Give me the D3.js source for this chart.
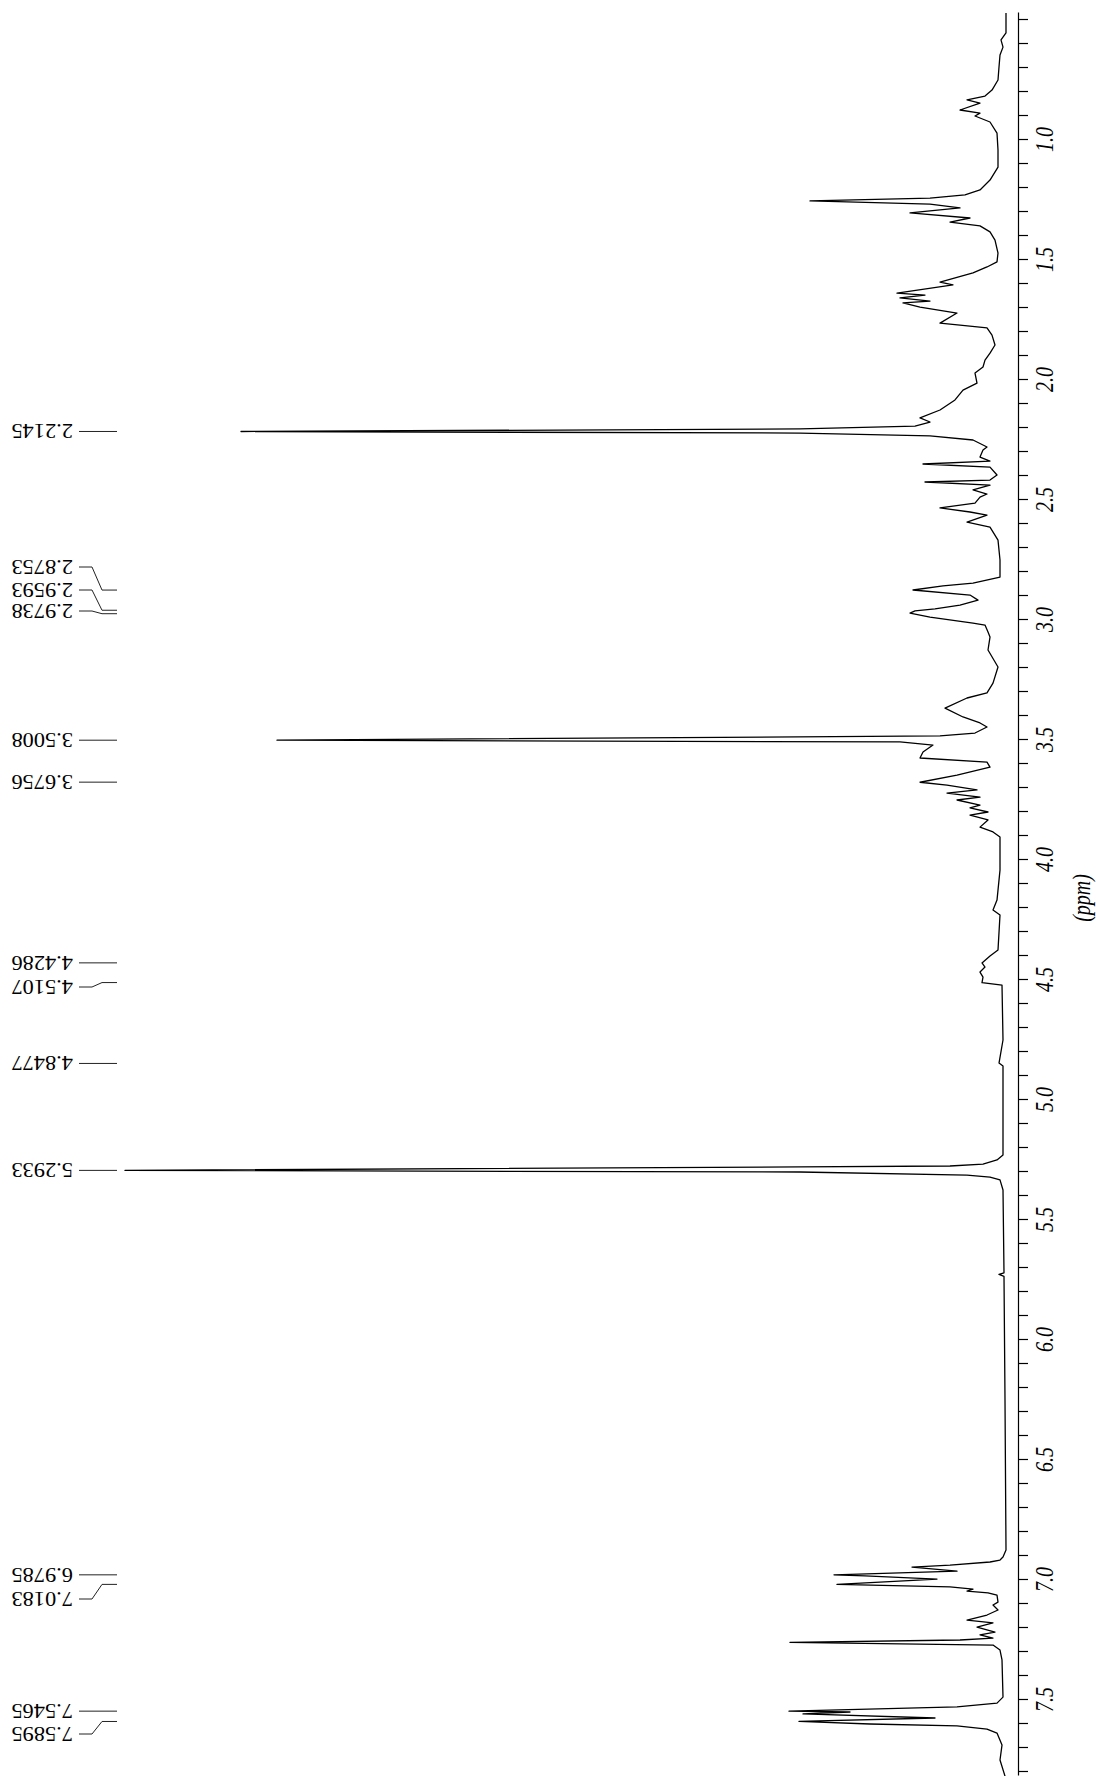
<!DOCTYPE html>
<html>
<head>
<meta charset="utf-8">
<script src="https://cdn.jsdelivr.net/npm/d3@7/dist/d3.min.js"></script>
<style>
    body { margin: 0; background: #fff; }
    svg { display: block; }
    .spectrum { fill: none; stroke: #000; stroke-width: 1.3; stroke-linejoin: round; }
    .leader { fill: none; stroke: #222; stroke-width: 1; }
    .peak-label { font-family: "Liberation Serif", "Times New Roman", serif; font-size: 20px; fill: #000; }
    .axis-label { font-family: "Liberation Serif", "Times New Roman", serif; font-style: italic; font-size: 20px; fill: #000; }
</style>
</head>
<body>
<svg id="chart"></svg>
<script>
// chemical shift (ppm) of each traced point of the 1H spectrum
const shift = [
    0.471, 0.554, 0.583, 0.613, 0.646, 0.696, 0.750, 0.792, 0.817, 0.833,
    0.846, 0.875, 0.888, 0.900, 0.925, 0.971, 1.042, 1.113, 1.167, 1.208,
    1.229, 1.242, 1.254, 1.267, 1.283, 1.304, 1.325, 1.342, 1.358, 1.383,
    1.417, 1.471, 1.508, 1.529, 1.554, 1.592, 1.604, 1.638, 1.646, 1.658,
    1.671, 1.679, 1.696, 1.721, 1.763, 1.771, 1.783, 1.813, 1.854, 1.888,
    1.917, 1.946, 1.971, 2.013, 2.042, 2.083, 2.125, 2.158, 2.175, 2.192,
    2.204, 2.2145, 2.221, 2.233, 2.250, 2.279, 2.292, 2.321, 2.338, 2.350,
    2.363, 2.396, 2.417, 2.425, 2.438, 2.458, 2.475, 2.488, 2.513, 2.533,
    2.550, 2.563, 2.592, 2.613, 2.667, 2.750, 2.821, 2.846, 2.858, 2.875,
    2.896, 2.917, 2.938, 2.954, 2.962, 2.971, 2.988, 3.013, 3.021, 3.050,
    3.071, 3.125, 3.196, 3.263, 3.304, 3.325, 3.367, 3.404, 3.429, 3.446,
    3.471, 3.483, 3.5008, 3.508, 3.521, 3.550, 3.575, 3.592, 3.613, 3.646,
    3.676, 3.688, 3.708, 3.721, 3.738, 3.750, 3.771, 3.783, 3.800, 3.813,
    3.833, 3.863, 3.883, 3.904, 4.042, 4.167, 4.208, 4.229, 4.375, 4.400,
    4.429, 4.446, 4.467, 4.488, 4.511, 4.521, 4.750, 4.846, 4.858, 5.229,
    5.250, 5.267, 5.275, 5.279, 5.2933, 5.300, 5.313, 5.321, 5.333, 5.375,
    5.720, 5.727, 5.735, 6.250, 6.875, 6.904, 6.917, 6.925, 6.938, 6.946,
    6.963, 6.9785, 6.983, 6.996, 7.0183, 7.029, 7.038, 7.046, 7.054, 7.063,
    7.092, 7.104, 7.125, 7.146, 7.167, 7.179, 7.196, 7.217, 7.229, 7.242,
    7.250, 7.260, 7.271, 7.292, 7.333, 7.488, 7.513, 7.529, 7.5465, 7.550,
    7.558, 7.575, 7.5895, 7.600, 7.608, 7.621, 7.638, 7.688, 7.750, 7.817
];

// signal height above the baseline, same order as shift
const intensity = [
    0, 0, 5, 3, 6, 7, 8, 14, 21, 39,
    26, 46, 26, 31, 16, 9, 8, 8, 16, 26,
    41, 76, 196, 76, 46, 96, 36, 56, 26, 16,
    11, 8, 9, 19, 33, 66, 53, 109, 81, 106,
    76, 103, 86, 49, 66, 46, 19, 14, 11, 16,
    21, 23, 31, 29, 43, 51, 66, 86, 76, 91,
    206, 765, 206, 76, 33, 19, 23, 26, 16, 83,
    16, 9, 16, 81, 16, 33, 19, 26, 31, 66,
    36, 19, 39, 16, 8, 6, 6, 33, 63, 93,
    36, 28, 46, 71, 91, 96, 76, 33, 21, 18,
    16, 18, 8, 13, 19, 39, 61, 43, 26, 19,
    31, 66, 729, 106, 73, 83, 86, 19, 16, 49,
    86, 59, 29, 59, 26, 49, 26, 36, 18, 36,
    18, 26, 13, 6, 6, 9, 13, 6, 8, 16,
    24, 21, 26, 23, 24, 4, 3, 7, 3, 3,
    9, 23, 56, 206, 881, 206, 39, 16, 6, 3,
    2, 7, 2, 1, 0, 3, 6, 16, 56, 94,
    49, 172, 141, 69, 169, 56, 33, 39, 18, 9,
    8, 13, 8, 19, 39, 13, 29, 11, 26, 13,
    46, 216, 13, 6, 4, 3, 9, 49, 217, 156,
    203, 71, 207, 136, 49, 19, 9, 4, 6, 1
];

// picked peaks and where their labels sit (ppm)
const peakShift = [2.2145, 2.8753, 2.9593, 2.9738, 3.5008, 3.6756, 4.4286,
    4.5107, 4.8477, 5.2933, 6.9785, 7.0183, 7.5465, 7.5895];
const peakLabelAt = [2.2145, 2.7792, 2.8750, 2.9625, 3.5008, 3.6756, 4.4286,
    4.5292, 4.8477, 5.2933, 6.9785, 7.0792, 7.5465, 7.6417];

const labelledTicks = [1.0, 1.5, 2.0, 2.5, 3.0, 3.5, 4.0, 4.5, 5.0, 5.5, 6.0, 6.5, 7.0, 7.5];
const axisTitle = "(ppm)";

const width = 1096, height = 1776;

const svg = d3.select("#chart")
    .attr("width", width)
    .attr("height", height);

// the spectrum is laid out landscape and turned a quarter turn
const plot = svg.append("g")
    .attr("transform", `translate(0,${height}) rotate(-90)`);

const x = d3.scaleLinear().domain([0.4708, 7.8167]).range([1763, 0]);
const y = d3.scaleLinear().domain([0, 900]).range([1006, 106]);

const points = shift.map((s, i) => [s, intensity[i]]);

plot.append("path")
    .datum(points)
    .attr("class", "spectrum")
    .attr("d", d3.line().x(d => x(d[0])).y(d => y(d[1])));

// axis
const minorTicks = d3.range(5, 79).map(d => d / 10);
const axisY = 1018;
const axis = d3.axisBottom(x)
    .tickValues(minorTicks)
    .tickSize(10)
    .tickSizeOuter(0)
    .tickFormat(d => labelledTicks.some(t => Math.abs(t - d) < 1e-6) ? d.toFixed(1) : "");

const axisG = plot.append("g")
    .attr("transform", `translate(0,${axisY})`)
    .call(axis);

axisG.select(".domain").attr("stroke", "#000").attr("stroke-width", 1.2);
axisG.selectAll(".tick line").attr("stroke", "#000").attr("stroke-width", 1.2);
axisG.selectAll(".tick text")
    .attr("class", "axis-label")
    .attr("font-size", null)
    .attr("font-family", null)
    .attr("y", null)
    .attr("dy", null)
    .attr("dominant-baseline", "central")
    .attr("transform", "translate(0,26) scale(1,1.3)");

plot.append("text")
    .attr("class", "axis-label")
    .attr("text-anchor", "middle")
    .attr("dominant-baseline", "central")
    .attr("transform", `translate(${x(4.1583)},${axisY + 63}) scale(1,1.3)`)
    .text(axisTitle);

// peak labels with leader lines
const peaks = peakShift.map((p, i) => ({ p, at: peakLabelAt[i] }));

plot.selectAll("path.leader")
    .data(peaks)
    .enter()
    .append("path")
    .attr("class", "leader")
    .attr("d", d => d3.line()([
        [x(d.at), 79], [x(d.at), 92], [x(d.p), 102], [x(d.p), 117]
    ]));

plot.selectAll("text.peak-label")
    .data(peaks)
    .enter()
    .append("text")
    .attr("class", "peak-label")
    .attr("transform", d => `translate(${x(d.at)},73) scale(1,1.12) rotate(-90)`)
    .attr("dy", "0.35em")
    .text(d => d.p.toFixed(4));
</script>
</body>
</html>
